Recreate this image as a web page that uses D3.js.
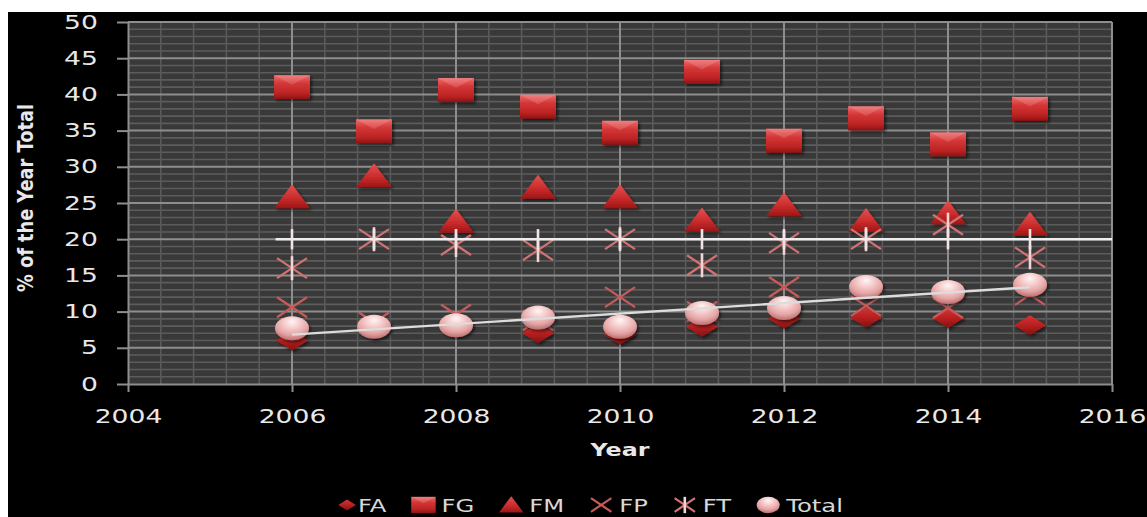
<!DOCTYPE html>
<html>
<head>
<meta charset="utf-8">
<script src="https://cdn.jsdelivr.net/npm/d3@7"></script>
<style>
  html, body { margin: 0; padding: 0; background: #ffffff; }
  svg { display: block; }
</style>
</head>
<body>
<svg id="chart" width="1147" height="517"></svg>
<script>
// ---- data: share of the year total (%) per category ----
const years = [2006, 2007, 2008, 2009, 2010, 2011, 2012, 2013, 2014, 2015];
const FA    = [6.0, 7.6, 8.0, 7.0, 6.8, 7.9, 9.0, 9.2, 9.1, 8.1];
const FG    = [41.0, 34.9, 40.6, 38.3, 34.7, 43.1, 33.6, 36.7, 33.1, 38.0];
const FM    = [25.8, 28.7, 22.4, 27.1, 25.8, 22.6, 24.7, 22.5, 23.6, 22.0];
const FP    = [10.6, 8.5, 9.6, 8.8, 12.0, 10.0, 13.4, 10.8, 10.5, 12.3];
const FT    = [16.0, 20.0, 19.2, 18.5, 20.0, 16.4, 19.5, 20.0, 22.0, 17.5];
const Total = [7.7, 7.9, 8.1, 9.2, 7.9, 9.8, 10.5, 13.4, 12.7, 13.7];

// 20 % reference level drawn across the plot, with a tick at each year
const refLevel = 20;
const refSpan = [2005.8, 2016];
const refTickHalf = 1.4;

const xTicks = [2004, 2006, 2008, 2010, 2012, 2014, 2016];
const yTicks = [0, 5, 10, 15, 20, 25, 30, 35, 40, 45, 50];
const seriesNames = ["FA", "FG", "FM", "FP", "FT", "Total"];

// ---- layout ----
const W = 1147, H = 517;
const svg = d3.select("#chart");
const x = d3.scaleLinear().domain([2004, 2016]).range([128, 1112]);
const y = d3.scaleLinear().domain([0, 50]).range([384, 22]);
const SX = 1.4; // horizontal stretch of the lettering

// ---- defs: gradients and shadow ----
const defs = svg.append("defs");
function linGrad(id, stops) {
  const g = defs.append("linearGradient").attr("id", id)
    .attr("x1", 0).attr("y1", 0).attr("x2", 0).attr("y2", 1);
  stops.forEach(([o, c]) => g.append("stop").attr("offset", o).attr("stop-color", c));
}
linGrad("gSq", [[0, "#ee6a6a"], [0.35, "#d43636"], [0.75, "#bc2424"], [1, "#8e1212"]]);
linGrad("gTri", [[0, "#e85050"], [0.6, "#c82a2a"], [1, "#9c1616"]]);
linGrad("gDia", [[0, "#d43434"], [0.5, "#b82020"], [1, "#841010"]]);
const rg = defs.append("radialGradient").attr("id", "gCirc")
  .attr("cx", "50%").attr("cy", "32%").attr("r", "70%").attr("fx", "50%").attr("fy", "22%");
[[0, "#fff6f6"], [0.35, "#f6cccc"], [0.7, "#e4a4a4"], [1, "#b86a6a"]]
  .forEach(([o, c]) => rg.append("stop").attr("offset", o).attr("stop-color", c));
const sh = defs.append("filter").attr("id", "shadow")
  .attr("x", "-30%").attr("y", "-30%").attr("width", "170%").attr("height", "170%");
sh.append("feDropShadow").attr("dx", 2).attr("dy", 2).attr("stdDeviation", 1.5)
  .attr("flood-color", "#000").attr("flood-opacity", 0.55);

// ---- backgrounds ----
svg.append("rect").attr("x", 8).attr("y", 12).attr("width", W - 8).attr("height", H - 12)
  .attr("fill", "#000000");
svg.append("rect")
  .attr("x", x(2004)).attr("y", y(50))
  .attr("width", x(2016) - x(2004)).attr("height", y(0) - y(50))
  .attr("fill", "#393939");

// ---- grid ----
const grid = svg.append("g");
const minorY = d3.range(0, 51, 1).filter(v => v % 5 !== 0);
const minorX = d3.range(0, 31).map(i => 2004 + i * 0.4).filter((v, i) => i % 5 !== 0);
grid.selectAll(".mh").data(minorY).join("line")
  .attr("x1", x(2004)).attr("x2", x(2016))
  .attr("y1", d => y(d)).attr("y2", d => y(d))
  .attr("stroke", "#5c5c5c").attr("stroke-width", 1.6);
grid.selectAll(".mv").data(minorX).join("line")
  .attr("y1", y(0)).attr("y2", y(50))
  .attr("x1", d => x(d)).attr("x2", d => x(d))
  .attr("stroke", "#595959").attr("stroke-width", 1.6);
grid.selectAll(".Mh").data(yTicks.filter(v => v > 0)).join("line")
  .attr("x1", x(2004)).attr("x2", x(2016))
  .attr("y1", d => y(d)).attr("y2", d => y(d))
  .attr("stroke", "#8e8e8e").attr("stroke-width", 2);
grid.selectAll(".Mv").data(xTicks.filter(v => v > 2004)).join("line")
  .attr("y1", y(0)).attr("y2", y(50))
  .attr("x1", d => x(d)).attr("x2", d => x(d))
  .attr("stroke", "#8e8e8e").attr("stroke-width", 2);

// ---- axes ----
const labelFont = "19px 'DejaVu Sans', sans-serif";
const gY = svg.append("g").attr("transform", `translate(${x(2004)},0)`)
  .call(d3.axisLeft(y).tickValues(yTicks).tickSize(11).tickSizeOuter(0).tickPadding(10.5));
const gX = svg.append("g").attr("transform", `translate(0,${y(0)})`)
  .call(d3.axisBottom(x).tickValues(xTicks).tickFormat(d3.format("d"))
    .tickSize(8).tickSizeOuter(0).tickPadding(17.5));
[gY, gX].forEach(g => {
  g.select(".domain").attr("stroke", "#8e8e8e").attr("stroke-width", 2);
  g.selectAll(".tick line").attr("stroke", "#8e8e8e").attr("stroke-width", 2);
  g.selectAll(".tick text").attr("fill", "#e8e8e8").style("font", labelFont)
    .attr("transform", `scale(${SX},1)`);
});

// axis titles
svg.append("text")
  .attr("transform", `translate(${(x(2004) + x(2016)) / 2},456) scale(1.32,1)`)
  .attr("text-anchor", "middle").attr("fill", "#e8e8e8")
  .style("font", "bold 18px 'DejaVu Sans', sans-serif")
  .text("Year");
svg.append("text")
  .attr("transform", "translate(33,198) rotate(-90)")
  .attr("text-anchor", "middle").attr("fill", "#e8e8e8")
  .attr("textLength", 188).attr("lengthAdjust", "spacingAndGlyphs")
  .style("font", "bold 22px 'DejaVu Sans', sans-serif")
  .text("% of the Year Total");

// ---- marker shapes (drawn in local coordinates) ----
function drawMarker(g, type, s) {
  // s scales the marker (1 = plot size)
  if (type === "FA") {
    g.append("path").attr("d", `M0,${-10 * s}L${16 * s},0L0,${10 * s}L${-16 * s},0Z`)
      .attr("fill", "url(#gDia)");
  } else if (type === "FG") {
    const w = 18 * s, h = 12 * s;
    g.append("rect").attr("x", -w).attr("y", -h).attr("width", 2 * w).attr("height", 2 * h)
      .attr("fill", "url(#gSq)");
    g.append("path").attr("d", `M${-w},${-h}L0,${-h * 0.2}L${w},${-h}Z`)
      .attr("fill", "#ffffff").attr("opacity", 0.14);
  } else if (type === "FM") {
    g.append("path").attr("d", `M0,${-13 * s}L${18 * s},${11 * s}L${-18 * s},${11 * s}Z`)
      .attr("fill", "url(#gTri)");
  } else if (type === "FP") {
    const a = 15 * s, b = 10 * s;
    g.append("path").attr("d", `M${-a},${-b}L${a},${b}M${-a},${b}L${a},${-b}`)
      .attr("stroke", "#c85a5a").attr("stroke-width", 2.2).attr("fill", "none");
  } else if (type === "FT") {
    const a = 15 * s, b = 10 * s;
    g.append("path").attr("d", `M${-a},${-b}L${a},${b}M${-a},${b}L${a},${-b}`)
      .attr("stroke", "#d27272").attr("stroke-width", 2.2).attr("fill", "none");
    g.append("path").attr("d", `M0,${-12 * s}L0,${12 * s}`)
      .attr("stroke", "#f4d4d4").attr("stroke-width", 2.6);
  } else if (type === "Total") {
    g.append("ellipse").attr("rx", 17 * s).attr("ry", 12 * s).attr("fill", "url(#gCirc)");
  }
}

// ---- series ----
const seriesData = { FA, FG, FM, FP, FT, Total };
const plot = svg.append("g");
seriesNames.forEach(name => {
  const vals = seriesData[name];
  const g = plot.append("g").attr("class", "series-" + name);
  const shadowed = !(name === "FP" || name === "FT");
  g.selectAll("g").data(years.map((yr, i) => ({ yr, v: vals[i] }))).join("g")
    .attr("transform", d => `translate(${x(d.yr)},${y(d.v)})`)
    .attr("filter", shadowed ? "url(#shadow)" : null)
    .each(function () { drawMarker(d3.select(this), name, 1); });
});

// reference level at 20 %
plot.append("line")
  .attr("x1", x(refSpan[0])).attr("x2", x(refSpan[1]))
  .attr("y1", y(refLevel)).attr("y2", y(refLevel))
  .attr("stroke", "#eeeeee").attr("stroke-width", 2.4);
plot.selectAll(".refTick").data(years).join("line")
  .attr("x1", d => x(d)).attr("x2", d => x(d))
  .attr("y1", y(refLevel + refTickHalf)).attr("y2", y(refLevel - refTickHalf))
  .attr("stroke", "#f2e4e4").attr("stroke-width", 2.6);

// linear trend of the yearly total
const reg = (() => {
  const mx = d3.mean(years), my = d3.mean(Total);
  const sxy = d3.sum(years, (d, i) => (d - mx) * (Total[i] - my));
  const sxx = d3.sum(years, d => (d - mx) * (d - mx));
  const b = sxy / sxx;
  return t => my + b * (t - mx);
})();
const x0 = d3.min(years), x1 = d3.max(years);
plot.append("line")
  .attr("x1", x(x0)).attr("x2", x(x1))
  .attr("y1", y(reg(x0))).attr("y2", y(reg(x1)))
  .attr("stroke", "#dcdcdc").attr("stroke-width", 2.4);

// ---- legend ----
const legend = svg.append("g").attr("transform", "translate(0,505)");
const legendFont = "18px 'DejaVu Sans', sans-serif";
const LSX = 1.35;
const items = legend.selectAll("g").data(seriesNames).join("g");
items.each(function (name) {
  const g = d3.select(this);
  const m = g.append("g").attr("class", "mk");
  drawMarker(m, name, name === "FA" ? 0.55 : 0.68);
  g.append("text").attr("fill", "#d8d8d8").style("font", legendFont)
    .attr("transform", `translate(${name === "FA" ? 11 : 18},6.5) scale(${LSX},1)`).text(name);
});
// place legend entries one after another, centred under the plot
const widths = [];
items.each(function (name) {
  const t = d3.select(this).select("text").node();
  widths.push((name === "FA" ? 11 : 18) + t.getComputedTextLength() * LSX);
});
const gap = 37;
const total = d3.sum(widths) + gap * (widths.length - 1) + 10;
let cx = 590 - total / 2 + 10;
items.attr("transform", (d, i) => {
  const pos = cx;
  cx += widths[i] + gap;
  return `translate(${pos},0)`;
});
</script>
</body>
</html>
